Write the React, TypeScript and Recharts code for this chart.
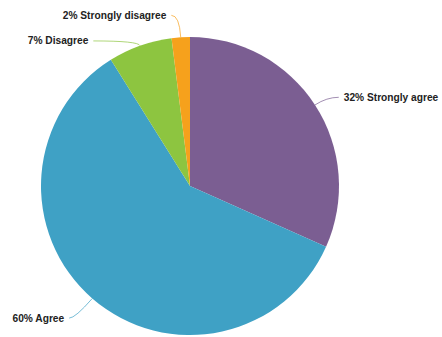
import { PieChart, Pie, Cell } from "recharts";

const answers = ["Strongly agree", "Agree", "Disagree", "Strongly disagree"];
const shares = [32, 60, 7, 2];
const colors = ["#7b5e92", "#3fa1c5", "#8dc540", "#f6a11c"];

const data = answers.map((name, i) => ({ name, value: shares[i] }));

// radial elbow length and horizontal run for each leader line
const leader: Record<string, [number, number]> = {
  "Strongly agree": [14, 12],
  Agree: [26, 6],
  Disagree: [5, 45],
  "Strongly disagree": [22, 8],
};

const RAD = Math.PI / 180;

function renderLabel(props: any) {
  const { cx, cy, midAngle, outerRadius, name, value, index } = props;
  const [radial, run] = leader[name] ?? [12, 8];
  const cos = Math.cos(-midAngle * RAD);
  const sin = Math.sin(-midAngle * RAD);
  const sx = cx + outerRadius * cos;
  const sy = cy + outerRadius * sin;
  const mx = cx + (outerRadius + radial) * cos;
  const my = cy + (outerRadius + radial) * sin;
  const dir = cos >= 0 ? 1 : -1;
  const ex = mx + dir * run;
  const ey = my;
  return (
    <g key={`l-${index}`}>
      <path
        d={`M${sx},${sy} Q${mx},${my} ${ex},${ey}`}
        stroke={colors[index]}
        strokeOpacity={0.7}
        fill="none"
        strokeWidth={1}
      />
      <text
        x={ex + dir * 5}
        y={ey}
        textAnchor={dir > 0 ? "start" : "end"}
        dominantBaseline="central"
        fontSize={10.2}
        fontWeight="bold"
        fill="#222"
      >
        {`${value}% ${name}`}
      </text>
    </g>
  );
}

export default function App() {
  return (
    <div
      style={{
        position: "absolute",
        left: 0,
        top: 0,
        width: 442,
        height: 337,
        background: "#fff",
        fontFamily: "'Liberation Sans', Arial, sans-serif",
      }}
    >
      <PieChart width={442} height={337} margin={{ top: 0, right: 0, bottom: 0, left: 0 }}>
        <Pie
          data={data}
          dataKey="value"
          nameKey="name"
          cx={190}
          cy={186}
          outerRadius={149}
          startAngle={90}
          endAngle={-270}
          stroke="none"
          label={renderLabel}
          labelLine={false}
          isAnimationActive={false}
        >
          {data.map((d, i) => (
            <Cell key={d.name} fill={colors[i]} />
          ))}
        </Pie>
      </PieChart>
    </div>
  );
}
